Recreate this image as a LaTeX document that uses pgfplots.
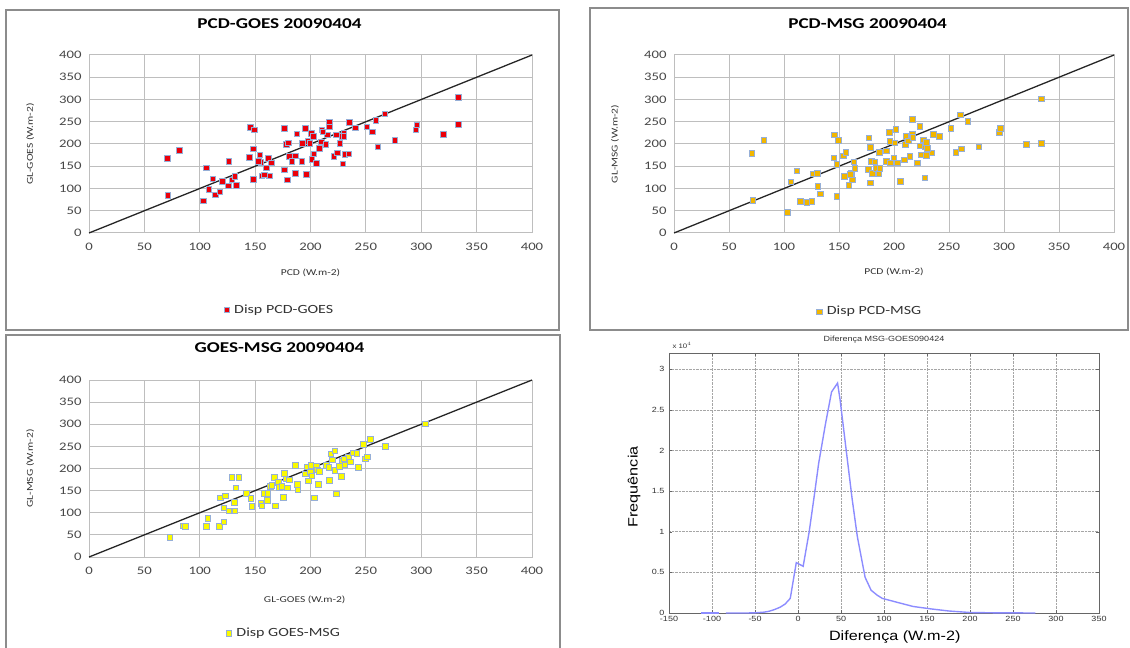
\documentclass[border=0pt]{standalone}
\usepackage{fontspec}
\setmainfont{Carlito}[FakeStretch=1.28]
\newfontfamily\mfont{Liberation Sans}[FakeStretch=1.2]
\usepackage{pgfplots}
\pgfplotsset{compat=1.18}
\definecolor{gridc}{RGB}{190,190,190}
\definecolor{redc}{RGB}{235,0,10}
\definecolor{orc}{RGB}{242,182,0}
\definecolor{yelc}{RGB}{250,250,0}
\definecolor{edgec}{RGB}{150,175,215}
\definecolor{linec}{RGB}{140,140,255}
\pgfplotsset{
 xl/.style={scale only axis, anchor=south west, clip=false,
  xmin=0,xmax=400,ymin=0,ymax=400,
  xtick={0,50,...,400}, ytick={0,50,...,400},
  grid=major, major grid style={draw=gridc, line width=1pt},
  axis line style={draw=gridc, line width=1pt},
  major tick length=0pt,
  tick label style={font=\fontsize{11.5}{13}\selectfont, text=black!72},
  /pgf/number format/assume math mode=true,
  xticklabel style={yshift=-7pt},
  yticklabel style={xshift=-4pt},
  title style={font=\fontsize{15}{16}\selectfont\bfseries, anchor=center},
  xlabel style={font=\fontsize{9}{10}\selectfont, anchor=center, text=black!80},
  ylabel style={font=\fontsize{9}{10}\selectfont, anchor=center, text=black!80},
  legend style={draw=none, fill=none, font=\fontsize{12.5}{14}\selectfont, anchor=center, text=black!80},
 },
 sc/.style={only marks, mark=square*, mark size=2.8pt, mark options={fill=#1, draw=edgec, line width=0.4pt},
   legend image code/.code={\path[draw=none, fill=none] (0cm,0cm) -- (0.3cm,0cm); \draw[fill=#1, draw=edgec, line width=0.4pt] (0.1cm-2.6pt,-2.6pt) rectangle (0.1cm+2.6pt,2.6pt);}},
 dl/.style={black!85, line width=1.3pt, forget plot},
}
\begin{document}
\begin{tikzpicture}[x=1pt,y=1pt]
\path[use as bounding box] (0,0) rectangle (1130,648);
\draw[black!45, line width=1.2pt] (6,638) rectangle (559,318);
\draw[black!45, line width=1.2pt] (590,640) rectangle (1128,318);
\draw[black!45, line width=1.2pt] (6,-10) rectangle (560,313);

% Panel 1
\begin{axis}[xl, at={(89pt,415pt)}, width=443pt, height=178pt,
  title={PCD-GOES 20090404}, title style={at={(axis description cs:0.43,1.14)}},
  xlabel={PCD (W.m-2)}, xlabel style={at={(axis description cs:0.5,-0.225)}},
  ylabel={GL-GOES (W.m-2)}, ylabel style={at={(axis description cs:-0.133,0.5)}},
  legend style={at={(axis description cs:0.43,-0.43)}}]
\addplot[dl] coordinates {(0,0) (400,400)};
\addplot[sc=redc] coordinates {(70.5,167.5)(71,84.5)(81.5,186)(106,147)(108,99)(111.6,122)(114,86)(118,93)(120,117)(125.6,106)(126,161.5)(129,120)(131.7,127)(132.7,108)(103,72.5)(145.6,238)(144.7,171)(148.9,232)(148,189)(148,121)(154,176)(155,159)(156,128.6)(160,147)(161.8,167.5)(162.8,129)(164.4,158)(176,235.5)(176,142)(178,200)(179,119.6)(179.6,203)(181,172)(183,161.5)(186,134.6)(186.4,174)(187.6,223)(192,162)(192.6,202)(195,235.5)(196,132)(197.4,206)(199.4,202)(200.6,224)(201,166)(202.3,217)(203,178)(205,157)(208,190)(209.4,205.6)(210,232)(213.6,199)(215,220.6)(216.8,250.5)(217,239)(221,172.7)(223,220.6)(224,180)(226.5,202)(228,217)(229,155.5)(229.8,224)(231,177)(234.6,178)(235,249)(240.5,237)(250.8,239)(255.7,228)(259,254)(260.5,194)(267,267.7)(276,208)(295,232)(296,243)(320,222)(333.6,305)(333.6,244.5)(211,228)(158,131)(153,162)(230,217)};
\addlegendentry{Disp PCD-GOES}
\end{axis}

% Panel 2
\begin{axis}[xl, at={(674pt,415pt)}, width=440pt, height=178pt,
  title={PCD-MSG 20090404}, title style={at={(axis description cs:0.44,1.14)}},
  xlabel={PCD (W.m-2)}, xlabel style={at={(axis description cs:0.5,-0.22)}},
  ylabel={GL-MSG (W.m-2)}, ylabel style={at={(axis description cs:-0.134,0.5)}},
  legend style={at={(axis description cs:0.445,-0.44)}}]
\addplot[dl] coordinates {(0,0) (400,400)};
\addplot[sc=orc] coordinates {(70.5,179)(71.5,73.5)(81.6,208)(106,115.6)(111.7,140)(114.9,71)(120.6,69)(125,71)(126,133.6)(130,134)(130.8,105.8)(132.7,88.6)(102.9,46.5)(145.4,221)(145,169.6)(149,208)(148,154)(148,83)(154.6,128)(153.7,174)(156,181)(158.7,107)(161,134)(161.9,120)(163.5,160)(164.4,146)(176.9,214)(176.8,144)(178.4,193)(178.4,112.6)(179,161)(180,134)(182.5,160.6)(183.5,145.6)(186,135)(186.6,181.6)(187,146)(193,184.6)(193,162)(195.9,226)(196,206)(196.8,157.6)(199.7,169.6)(200.6,203)(201.6,232.6)(202.8,158)(205.4,117)(209.5,165)(210,199)(210.8,217.6)(212.7,207)(214.3,172.6)(216.5,222)(216.5,256)(221,157.6)(223.5,240)(223.8,196)(224.4,175.6)(226.7,210)(228,124)(228.6,193.6)(229.5,175)(229.5,204)(234.3,180)(235.6,222)(241,217)(251.4,236)(256,182)(260,265.7)(261,189)(267,251)(277,193.6)(295.9,226.6)(296.8,235.6)(320,200)(334,301.7)(334,201.9)(217,215)(230,190)(160,132)};
\addlegendentry{Disp PCD-MSG}
\end{axis}

% Panel 3
\begin{axis}[xl, at={(89pt,91pt)}, width=443pt, height=177pt,
  title={GOES-MSG 20090404}, title style={at={(axis description cs:0.43,1.147)}},
  xlabel={GL-GOES (W.m-2)}, xlabel style={at={(axis description cs:0.487,-0.243)}},
  ylabel={GL-MSG (W.m-2)}, ylabel style={at={(axis description cs:-0.133,0.5)}},
  legend style={at={(axis description cs:0.44,-0.43)}}]
\addplot[dl] coordinates {(0,0) (400,400)};
\addplot[sc=yelc] coordinates {(73,45)(85,71)(86.6,70)(107,87.6)(106,69.7)(117.6,69)(118.6,134)(121.5,80)(121.8,111)(122.8,138.6)(126,105)(129,180.5)(130.9,123.6)(131.5,105)(132.5,157)(135,180.5)(142,143.8)(146,133)(147,114.6)(155,122)(156,116)(158,144.6)(161,128)(161.5,144.6)(163.8,160)(167,180.5)(168,116)(170.6,169)(172,158)(174,159.6)(175.4,135.6)(176.4,189.5)(177.7,176.8)(178.7,157)(181,174.5)(186,207.5)(188,164)(188.6,152)(195,188)(197,203.7)(197.7,172.3)(199.6,192.5)(200,208)(201,184)(203.4,134)(205,206)(206,197.7)(207,164.8)(207.8,194)(214,207.5)(216.5,203)(217,173.8)(218.4,233)(219.7,219.5)(222,240.4)(222,195.5)(223,143)(226,205)(227.8,182)(228.7,218)(231,209)(234,227)(235.8,215)(238,236)(241.7,234.5)(243,203)(247.5,255)(249.5,222.5)(251.4,227)(254,266)(267.5,251)(303.7,301)(165,162)(230,222)};
\addlegendentry{Disp GOES-MSG}
\end{axis}

% Panel 4
\begin{axis}[scale only axis, anchor=south west, at={(669pt,35pt)}, width=430pt, height=260pt,
  xmin=-150, xmax=350, ymin=0, ymax=3.2,
  xtick={-150,-100,...,350}, ytick={0,0.5,1,1.5,2,2.5,3},
  grid=major, major grid style={draw=black!35, densely dotted, line width=0.6pt},
  axis line style={draw=black!60, line width=0.6pt},
  tick align=inside, major tick length=3pt, tick style={black!60},
  tick label style={font=\mfont\fontsize{7.5}{9}\selectfont, text=black!80},
  /pgf/number format/assume math mode=true,
  xticklabel style={yshift=0pt},
  yticklabel style={xshift=-1pt},
  title={Diferen\c{c}a MSG-GOES090424}, title style={font=\mfont\fontsize{7.5}{9}\selectfont, at={(axis description cs:0.5,1.03)}, anchor=center, text=black!80},
  xlabel={Diferen\c{c}a (W.m-2)}, xlabel style={font=\mfont\fontsize{13.5}{15}\selectfont, at={(axis description cs:0.525,-0.092)}, anchor=center},
  ylabel={Frequ\^encia}, ylabel style={font=\mfont\fontsize{13.5}{15}\selectfont, at={(axis description cs:-0.081,0.485)}, anchor=center},
  clip=false]
\node[font=\mfont\fontsize{6.5}{8}\selectfont, anchor=west, text=black!80] at (rel axis cs:0,1.03) {x 10$^{\scriptscriptstyle 4}$};
\addplot[linec, line width=1.4pt] coordinates {(-113,0)(-92,0)};
\addplot[linec, line width=1.4pt] coordinates {(-84,0)(-60,0)(-50,0.002)(-40,0.01)(-34,0.02)(-28,0.04)(-21,0.07)(-15,0.11)(-9,0.18)(-2,0.62)(6,0.575)(13,1.0)(19,1.45)(24,1.84)(32,2.33)(39,2.72)(46,2.83)(49,2.62)(57,1.92)(63,1.4)(69,0.94)(78,0.44)(85,0.28)(92,0.22)(98,0.18)(114,0.135)(134,0.08)(155,0.05)(175,0.025)(200,0.006)(230,0.002)(276,0)};
\end{axis}
\end{tikzpicture}
\end{document}
